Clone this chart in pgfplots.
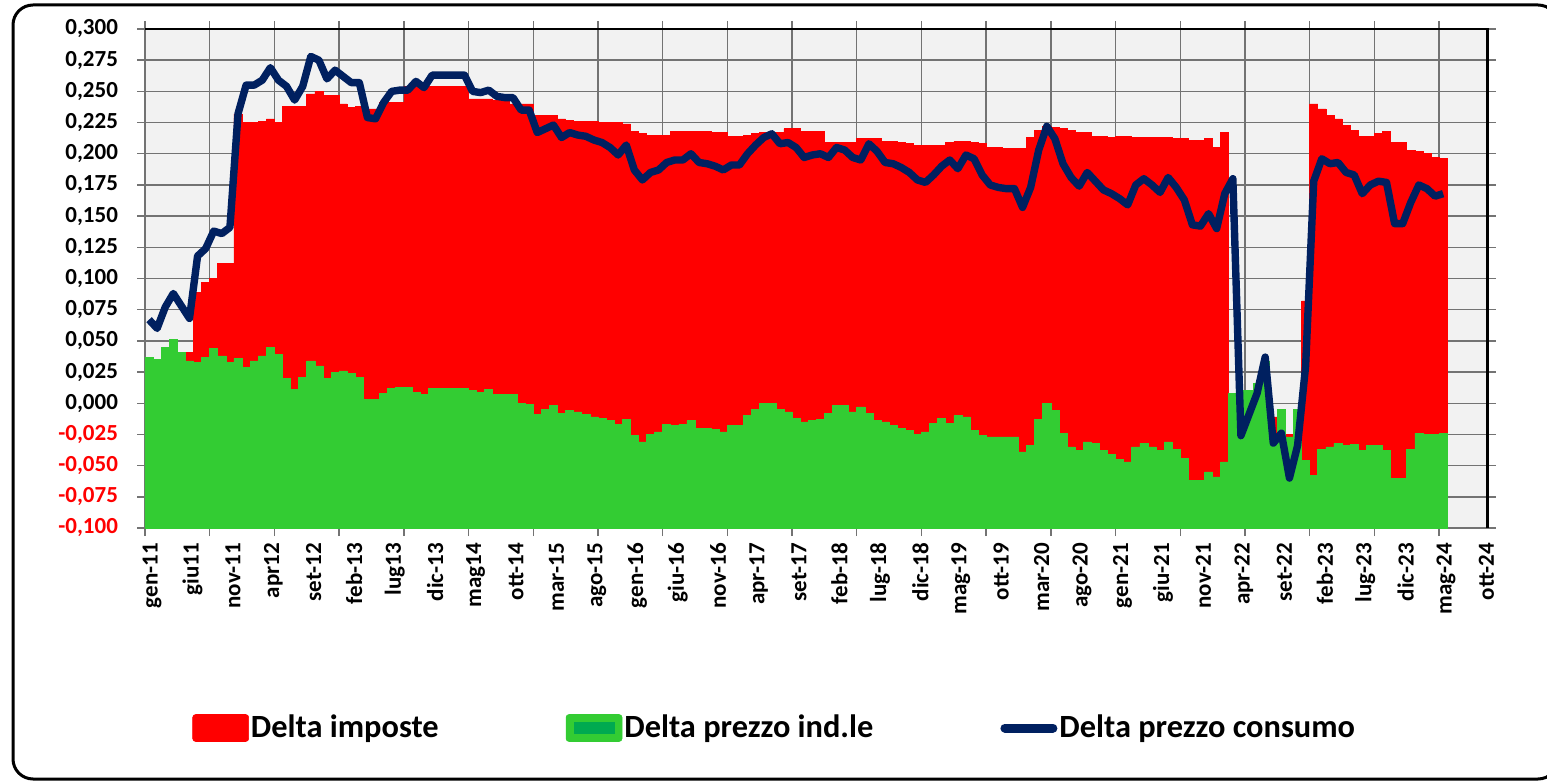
\documentclass[border=0pt]{standalone}
\usepackage{pgfplots}
\pgfplotsset{compat=1.18}
\usepackage{pgfplotstable}
\usepackage{fontspec}
\setmainfont{Carlito}
\definecolor{cred}{RGB}{255,0,0}
\definecolor{cgreen}{RGB}{51,204,51}
\definecolor{cgreendk}{RGB}{0,170,80}
\definecolor{cnavy}{RGB}{0,32,96}

% Delta imposte (month index k, value)
\pgfplotstableread{
k v
5 0.041
6 0.089
7 0.097
8 0.100
9 0.112
10 0.112
11 0.232
12 0.225
13 0.225
14 0.226
15 0.228
16 0.225
17 0.238
18 0.238
19 0.238
20 0.248
21 0.250
22 0.247
23 0.247
24 0.240
25 0.237
26 0.238
27 0.236
28 0.236
29 0.241
30 0.241
31 0.241
32 0.254
33 0.254
34 0.254
35 0.254
36 0.254
37 0.254
38 0.254
39 0.254
40 0.244
41 0.244
42 0.244
43 0.243
44 0.243
45 0.240
46 0.240
47 0.240
48 0.231
49 0.231
50 0.231
51 0.228
52 0.227
53 0.226
54 0.226
55 0.226
56 0.225
57 0.225
58 0.225
59 0.224
60 0.218
61 0.216
62 0.215
63 0.215
64 0.215
65 0.218
66 0.218
67 0.218
68 0.218
69 0.218
70 0.217
71 0.217
72 0.214
73 0.214
74 0.215
75 0.216
76 0.217
77 0.217
78 0.217
79 0.220
80 0.220
81 0.218
82 0.218
83 0.218
84 0.209
85 0.209
86 0.209
87 0.209
88 0.212
89 0.212
90 0.212
91 0.210
92 0.210
93 0.209
94 0.208
95 0.207
96 0.207
97 0.207
98 0.207
99 0.209
100 0.210
101 0.210
102 0.209
103 0.208
104 0.205
105 0.205
106 0.204
107 0.204
108 0.204
109 0.213
110 0.219
111 0.222
112 0.221
113 0.220
114 0.219
115 0.217
116 0.217
117 0.214
118 0.214
119 0.213
120 0.214
121 0.214
122 0.213
123 0.213
124 0.213
125 0.213
126 0.213
127 0.212
128 0.212
129 0.211
130 0.211
131 0.212
132 0.205
133 0.217
139 -0.011
141 -0.025
143 0.082
144 0.240
145 0.236
146 0.231
147 0.228
148 0.223
149 0.219
150 0.214
151 0.214
152 0.216
153 0.218
154 0.209
155 0.209
156 0.203
157 0.202
158 0.200
159 0.197
160 0.196
}\redtab

% Delta prezzo ind.le
\pgfplotstableread{
k v
0 0.037
1 0.035
2 0.045
3 0.051
4 0.041
5 0.034
6 0.033
7 0.037
8 0.044
9 0.038
10 0.033
11 0.036
12 0.029
13 0.034
14 0.038
15 0.045
16 0.039
17 0.020
18 0.011
19 0.021
20 0.034
21 0.030
22 0.020
23 0.025
24 0.026
25 0.024
26 0.021
27 0.003
28 0.003
29 0.008
30 0.012
31 0.013
32 0.013
33 0.009
34 0.007
35 0.012
36 0.012
37 0.012
38 0.012
39 0.012
40 0.010
41 0.009
42 0.011
43 0.007
44 0.007
45 0.007
46 0.000
47 -0.001
48 -0.009
49 -0.005
50 -0.002
51 -0.008
52 -0.006
53 -0.007
54 -0.009
55 -0.011
56 -0.012
57 -0.014
58 -0.017
59 -0.013
60 -0.026
61 -0.031
62 -0.025
63 -0.023
64 -0.017
65 -0.018
66 -0.017
67 -0.014
68 -0.020
69 -0.020
70 -0.021
71 -0.023
72 -0.018
73 -0.018
74 -0.010
75 -0.005
76 0.000
77 0.000
78 -0.005
79 -0.007
80 -0.012
81 -0.015
82 -0.014
83 -0.013
84 -0.008
85 -0.002
86 -0.002
87 -0.007
88 -0.003
89 -0.008
90 -0.014
91 -0.015
92 -0.018
93 -0.020
94 -0.022
95 -0.025
96 -0.023
97 -0.016
98 -0.012
99 -0.016
100 -0.010
101 -0.011
102 -0.022
103 -0.026
104 -0.027
105 -0.027
106 -0.027
107 -0.027
108 -0.039
109 -0.034
110 -0.013
111 0.000
112 -0.006
113 -0.024
114 -0.035
115 -0.038
116 -0.031
117 -0.032
118 -0.038
119 -0.041
120 -0.045
121 -0.047
122 -0.035
123 -0.032
124 -0.035
125 -0.038
126 -0.031
127 -0.037
128 -0.044
129 -0.062
130 -0.062
131 -0.055
132 -0.059
133 -0.047
134 0.008
135 0.010
136 0.010
137 0.016
138 0.034
139 -0.032
140 -0.005
141 -0.027
142 -0.005
143 -0.046
144 -0.058
145 -0.037
146 -0.035
147 -0.032
148 -0.034
149 -0.033
150 -0.038
151 -0.034
152 -0.034
153 -0.038
154 -0.060
155 -0.060
156 -0.037
157 -0.024
158 -0.025
159 -0.025
160 -0.024
}\greentab

% Delta prezzo consumo
\pgfplotstableread{
k v
0 0.067
1 0.060
2 0.077
3 0.088
4 0.078
5 0.068
6 0.118
7 0.124
8 0.138
9 0.136
10 0.141
11 0.232
12 0.255
13 0.255
14 0.259
15 0.269
16 0.259
17 0.254
18 0.243
19 0.254
20 0.278
21 0.275
22 0.260
23 0.267
24 0.262
25 0.257
26 0.257
27 0.229
28 0.228
29 0.241
30 0.250
31 0.251
32 0.251
33 0.258
34 0.253
35 0.263
36 0.263
37 0.263
38 0.263
39 0.263
40 0.250
41 0.249
42 0.251
43 0.246
44 0.245
45 0.245
46 0.235
47 0.235
48 0.217
49 0.220
50 0.223
51 0.213
52 0.217
53 0.215
54 0.214
55 0.211
56 0.209
57 0.205
58 0.199
59 0.207
60 0.187
61 0.179
62 0.185
63 0.187
64 0.193
65 0.195
66 0.195
67 0.200
68 0.193
69 0.192
70 0.190
71 0.187
72 0.191
73 0.191
74 0.200
75 0.207
76 0.213
77 0.216
78 0.208
79 0.209
80 0.205
81 0.197
82 0.199
83 0.200
84 0.197
85 0.205
86 0.203
87 0.197
88 0.195
89 0.208
90 0.202
91 0.193
92 0.192
93 0.189
94 0.185
95 0.179
96 0.177
97 0.183
98 0.190
99 0.195
100 0.188
101 0.199
102 0.196
103 0.183
104 0.175
105 0.173
106 0.172
107 0.172
108 0.157
109 0.173
110 0.203
111 0.222
112 0.212
113 0.192
114 0.181
115 0.174
116 0.185
117 0.178
118 0.171
119 0.168
120 0.164
121 0.159
122 0.175
123 0.180
124 0.175
125 0.169
126 0.181
127 0.173
128 0.163
129 0.143
130 0.142
131 0.152
132 0.140
133 0.168
134 0.180
135 -0.026
136 -0.009
137 0.008
138 0.037
139 -0.032
140 -0.024
141 -0.060
142 -0.034
143 0.030
144 0.178
145 0.196
146 0.192
147 0.193
148 0.185
149 0.183
150 0.168
151 0.175
152 0.178
153 0.177
154 0.144
155 0.144
156 0.161
157 0.175
158 0.172
159 0.166
160 0.168
}\constab

\begin{document}
\begin{tikzpicture}
\useasboundingbox (0,0) rectangle (773.5pt,391pt);
\draw[line width=1.5pt, rounded corners=10pt] (6.5pt,1.5pt) rectangle (779pt,388.5pt);
\begin{axis}[
  at={(72.5pt,127pt)}, anchor=south west,
  scale only axis, width=671.3pt, height=249.5pt,
  xmin=0, xmax=166, ymin=0, ymax=0.4,
  axis background/.style={fill=black!5},
  xtick={0,5,...,165},
  xticklabels={gen-11,giu11,nov-11,apr12,set-12,feb-13,lug13,dic-13,mag14,ott-14,mar-15,ago-15,gen-16,giu-16,nov-16,apr-17,set-17,feb-18,lug-18,dic-18,mag-19,ott-19,mar-20,ago-20,gen-21,giu-21,nov-21,apr-22,set-22,feb-23,lug-23,dic-23,mag-24,ott-24},
  xticklabel style={rotate=90, anchor=east, font=\bfseries\fontsize{11.5}{13}\selectfont, yshift=-3.5pt},
  major x tick style={draw=none},
  minor xtick={0,8,...,160},
  minor tick length=4pt,
  minor x tick style={draw=black!55, line width=0.7pt},
  xminorgrids=true, xmajorgrids=false, ymajorgrids=true,
  grid style={draw=black!55, line width=0.7pt},
  minor grid style={draw=black!55, line width=0.7pt},
  ytick={0,0.025,0.05,0.075,0.1,0.125,0.15,0.175,0.2,0.225,0.25,0.275,0.3,0.325,0.35,0.375,0.4},
  yticklabels={{\color{cred}-0,100},{\color{cred}-0,075},{\color{cred}-0,050},{\color{cred}-0,025},{0,000},{0,025},{0,050},{0,075},{0,100},{0,125},{0,150},{0,175},{0,200},{0,225},{0,250},{0,275},{0,300}},
  yticklabel style={font=\bfseries\fontsize{11.5}{13}\selectfont, anchor=east, xshift=-6pt},
  tick align=outside, major tick length=4pt,
  major y tick style={draw=black!55, line width=0.7pt},
  axis line style={draw=black!55, line width=0.7pt},
  legend columns=3,
  legend style={at={(0.035,-0.4008)}, anchor=west, draw=none, fill=none, inner sep=0pt,
    font=\bfseries\fontsize{16.2}{19}\selectfont,
    nodes={inner sep=1pt},
    /tikz/every even column/.append style={column sep=62.5pt}},
  after end axis/.code={\draw[black, line width=1.2pt] (rel axis cs:0,1) -- (rel axis cs:1,1) -- (rel axis cs:1,0);},
]
\addplot[ybar, bar width=1, bar shift=0pt, fill=cred, draw=cred, line width=0.3pt,
  legend image code/.code={\fill[cred, rounded corners=1.5pt] (0pt,-6.75pt) rectangle (28pt,6.75pt);}]
  table[x expr=\thisrow{k}+0.5, y expr=\thisrow{v}+0.1] {\redtab};
\addlegendentry{Delta imposte}
\addplot[ybar, bar width=1, bar shift=0pt, fill=cgreen, draw=cgreen, line width=0.3pt,
  legend image code/.code={\fill[cgreen, rounded corners=1.5pt] (0pt,-6.75pt) rectangle (28pt,6.75pt);
    \fill[cgreendk] (4pt,-2.7pt) rectangle (24pt,2.7pt);}]
  table[x expr=\thisrow{k}+0.5, y expr=\thisrow{v}+0.1] {\greentab};
\addlegendentry{Delta prezzo ind.le}
\addplot[cnavy, line width=3.7pt, line join=round, no marks,
  legend image code/.code={\draw[cnavy, line width=4.5pt, line cap=round] (2.25pt,0pt) -- (26.25pt,0pt);}]
  table[x expr=\thisrow{k}+0.5, y expr=\thisrow{v}+0.1] {\constab};
\addlegendentry{Delta prezzo consumo}
\end{axis}
\end{tikzpicture}
\end{document}
